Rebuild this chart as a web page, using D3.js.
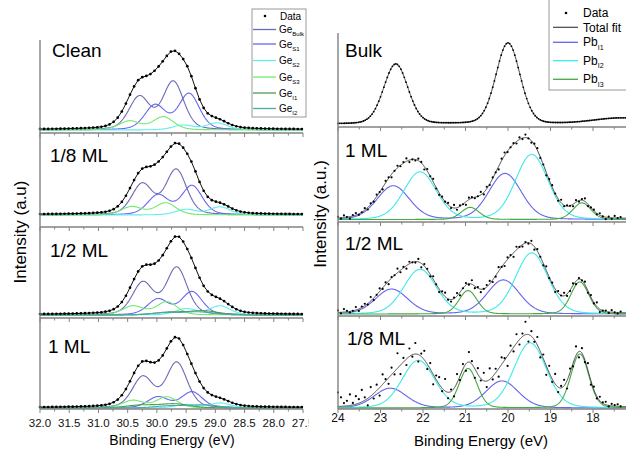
<!DOCTYPE html>
<html><head><meta charset="utf-8">
<script src="https://cdn.jsdelivr.net/npm/d3@7/dist/d3.min.js"></script>
<style>body{margin:0;background:#fff}svg{display:block}</style>
</head><body><svg id="c" width="626" height="450"></svg>
<script>
// ---------- DATA ----------
const geLabels = ["Clean", "1/8 ML", "1/2 ML", "1 ML"];
const pbLabels = ["Bulk", "1 ML", "1/2 ML", "1/8 ML"];
const geNames = ["Bulk", "S1", "S2", "S3", "I1", "I2"];
const pbNames = ["I1", "I2", "I3"];
// Ge 3d5/2 positions (eV) and heights for each left panel (Clean, 1/8, 1/2, 1 ML)
const geBulkPos = [29.72, 29.67, 29.66, 29.66], geBulkAmp = [48, 45, 47, 45];
const geS1Pos = [29.45, 29.40, 29.40, 29.40], geS1Amp = [36, 29, 23, 16];
const geS2Pos = [28.97, 28.92, 28.92, 28.92], geS2Amp = [7, 8, 9, 5];
const geS3Pos = [29.89, 29.85, 29.83, 29.83], geS3Amp = [13, 12, 13, 11];
const geI1Pos = [29.50, 29.50, 29.20, 29.70], geI1Amp = [0, 0, 4, 4];
const geI2Pos = [29.10, 29.10, 29.30, 29.20], geI2Amp = [0, 0, 3, 3];
const geFwhm = [0.42, 0.42, 0.42, 0.42, 0.6, 0.6];
const geSplit = 0.58, geBranch = 0.68;
// Pb 5d5/2 positions and heights for right panels (1 ML, 1/2 ML, 1/8 ML)
const pbI1Pos = [20.07, 20.11, 20.14], pbI1Amp = [46, 34, 27];
const pbI2Pos = [19.44, 19.44, 19.48], pbI2Amp = [65, 61, 65];
const pbI3Pos = [18.26, 18.31, 18.31], pbI3Amp = [16.6, 32, 54];
const pbFwhm = [0.9, 0.9, 0.5];
const pbSplit = 2.63, pbBranch = 0.73;
// Bulk Pb 5d
const bulkPos = 20.0, bulkAmp = 81, bulkFwhm = 0.67, bulkSplit = 2.64, bulkBranch = 0.74;
const bulkTailPos = 17.3, bulkTailAmp = 6, bulkTailFwhm = 1.6;
// scatter of measured points around the fit (right panels)
const res1ML = [1,-1,2,0,-2,1,2,-1,0,2,-2,1,-1,2,0,-2,2,1,-3,0,2,-1,1,3,-2,0,-1,2,1,-3,2,0,3,-1,-2,1,0,2,-1,3,-2,1,0,-3,2,1,-1,0,3,-2,2,-1,1,0,-3,2,3,-1,0,1,-2,2,-1,3,0,-2,1,2,-1,0,-3,1,2,0,-2,3,-1,1,0,-2,2,-1,1,3,-2,0,1,-1,2,0,-2,1,-1,2,0,1];
const res12ML = [2,-1,3,1,-1,0,3,-2,1,2,-1,4,-2,0,3,-1,2,-3,1,0,4,-2,1,-3,2,0,-1,3,-4,2,1,-2,3,0,-3,2,4,-1,-2,1,3,-3,0,2,-1,4,-2,1,-3,0,2,3,-2,-1,4,0,-3,2,1,-4,3,0,-2,1,-1,3,-3,2,0,-2,4,-1,1,-3,2,0,3,-2,-1,2,-3,1,0,3,-2,2,-1,4,-3,0,1,-1,2,0,-1,1];
const res18ML = [14,9,3,5,11,2,8,4,12,3,-7,9,-5,6,-8,10,2,-6,7,-3,15,-9,4,-6,8,-2,11,-7,3,9,-5,6,-10,4,7,-3,12,-6,2,-8,9,-4,5,-7,10,3,-9,6,-2,8,-6,11,-3,4,-8,7,2,-10,6,-4,9,-5,3,13,-7,5,-2,8,-6,4,-9,7,-3,10,-5,2,6,-8,4,-3,9,-6,5,-2,7,-4,3,-2,4,1,3,-1,2,1,2,0];
const leftTicks = [32, 31.5, 31, 30.5, 30, 29.5, 29, 28.5, 28, 27.5];
const leftMinor = [31.75, 31.25, 30.75, 30.25, 29.75, 29.25, 28.75, 28.25, 27.75];
const rightTicks = [24, 23, 22, 21, 20, 19, 18];
const rightMinor = [23.5, 22.5, 21.5, 20.5, 19.5, 18.5, 17.5];

// ---------- LAYOUT / STYLE ----------
const FONT = "'Liberation Sans', Arial, Helvetica, sans-serif";
const axisColor = "#828282";
const geColors = ["#6a6ab6", "#6666f0", "#60eeee", "#70ea70", "#4f9a4f", "#4fa8a8"];
const pbColors = ["#6565ee", "#3eeaea", "#44aa44"];
const fitColor = "#444";
const leftTop = [40, 133, 227, 318], leftAxis = [133, 227, 318, 409], leftBase = [130, 215, 315, 408];
const rightTop = [33, 127, 222, 316], rightAxis = [127, 222, 316, 409], rightBase = [124, 219.5, 314, 408];
const leftLabelPos = [[52, 57], [50, 162], [50, 257], [48, 353]];
const rightLabelPos = [[345, 57], [345, 157], [345, 250], [347, 345]];

const svg = d3.select("#c").style("font-family", FONT);
function pv(dx, w, eta) { const t = dx / w; return (1 - eta) * Math.exp(-4 * Math.LN2 * t * t) + eta / (1 + 4 * t * t); }
function doublet(E, c, h, w, split, branch, eta) { return h * pv(E - c, w, eta) + branch * h * pv(E - c - split, w, eta); }

function drawAxis(g, x, yPos, x0, x1, major, minor, labels, labelY, fmt, fs) {
  g.append("line").attr("x1", x0).attr("x2", x1).attr("y1", yPos).attr("y2", yPos)
    .attr("stroke", axisColor).attr("stroke-width", 1.4);
  g.selectAll(null).data(major).enter().append("line")
    .attr("x1", d => x(d)).attr("x2", d => x(d)).attr("y1", yPos).attr("y2", yPos + 4)
    .attr("stroke", axisColor).attr("stroke-width", 1);
  g.selectAll(null).data(minor).enter().append("line")
    .attr("x1", d => x(d)).attr("x2", d => x(d)).attr("y1", yPos).attr("y2", yPos + 2.5)
    .attr("stroke", axisColor).attr("stroke-width", 1);
  if (labels) {
    g.selectAll(null).data(major).enter().append("text")
      .attr("x", d => x(d)).attr("y", labelY).attr("text-anchor", "middle")
      .attr("font-size", fs).attr("fill", "#111").text(fmt);
  }
}

// ---------- LEFT (Ge 3d) ----------
const xL = d3.scaleLinear().domain([32, 27.5]).range([40, 303]);
const gL = svg.append("g");
const eFineL = d3.range(27.5, 32.0001, 0.01);
const eDataL = d3.range(0, 65).map(i => 32 - i * 0.07);
const gePos = [geBulkPos, geS1Pos, geS2Pos, geS3Pos, geI1Pos, geI2Pos];
const geAmp = [geBulkAmp, geS1Amp, geS2Amp, geS3Amp, geI1Amp, geI2Amp];
geLabels.forEach((lab, p) => {
  const y = d3.scaleLinear().domain([0, 100]).range([leftBase[p], leftBase[p] - 100]);
  const line = d3.line().x(d => xL(d[0])).y(d => y(d[1]));
  const comp = (k, E) => doublet(E, gePos[k][p], geAmp[k][p], geFwhm[k], geSplit, geBranch, 0.3);
  geNames.forEach((n, k) => {
    if (geAmp[k][p] <= 0) return;
    gL.append("path").datum(eFineL.map(E => [E, comp(k, E)])).attr("d", line)
      .attr("fill", "none").attr("stroke", geColors[k]).attr("stroke-width", 1.1);
  });
  const data = eDataL.map(E => [E, d3.sum(geNames, (n, k) => geAmp[k][p] > 0 ? comp(k, E) : 0) + 0.5]);
  gL.append("path").datum(data).attr("d", line).attr("fill", "none").attr("stroke", "#111").attr("stroke-width", 1);
  gL.selectAll(null).data(data).enter().append("circle")
    .attr("cx", d => xL(d[0])).attr("cy", d => y(d[1])).attr("r", 1.35).attr("fill", "#000");
  drawAxis(gL, xL, leftAxis[p], 40, 303, leftTicks, leftMinor, p === 3, 427, d => d.toFixed(1), 11.5);
  gL.append("text").attr("x", leftLabelPos[p][0]).attr("y", leftLabelPos[p][1])
    .attr("font-size", 19).attr("fill", "#000").text(lab);
});
gL.append("line").attr("x1", 40).attr("x2", 40).attr("y1", 40).attr("y2", 409)
  .attr("stroke", axisColor).attr("stroke-width", 1.4);
gL.append("text").attr("x", 172).attr("y", 445).attr("text-anchor", "middle").attr("font-size", 14).text("Binding Energy (eV)");
gL.append("text").attr("transform", "translate(26,232) rotate(-90)").attr("text-anchor", "middle")
  .attr("font-size", 17).text("Intensity (a.u)");

// Left legend
const lgL = svg.append("g");
lgL.append("rect").attr("x", 252).attr("y", 9).attr("width", 54).attr("height", 108)
  .attr("fill", "#fff").attr("stroke", "#999").attr("stroke-width", 1);
lgL.append("circle").attr("cx", 265).attr("cy", 16).attr("r", 1.3).attr("fill", "#000");
lgL.append("text").attr("x", 280).attr("y", 19.5).attr("font-size", 10).text("Data");
const lgLy = [29.5, 44, 60.5, 77, 93, 108.5];
geNames.forEach((n, k) => {
  lgL.append("line").attr("x1", 253).attr("x2", 276).attr("y1", lgLy[k]).attr("y2", lgLy[k])
    .attr("stroke", geColors[k]).attr("stroke-width", 1.3);
  const t = lgL.append("text").attr("x", 279).attr("y", lgLy[k] + 3.5).attr("font-size", 10);
  t.append("tspan").text("Ge");
  t.append("tspan").attr("dy", 3).attr("font-size", 6).text(n);
});

// ---------- RIGHT (Pb 5d) ----------
svg.append("rect").attr("x", 308.5).attr("y", 0).attr("width", 320).attr("height", 450).attr("fill", "#fff");
const xR = d3.scaleLinear().domain([24, 17.2]).range([338, 627]);
const gR = svg.append("g");
const eFineR = d3.range(17.2, 24.0001, 0.01);
const eDataR = d3.range(0, 96).map(i => 24 - i * 0.07);
const pbPos = [pbI1Pos, pbI2Pos, pbI3Pos], pbAmp = [pbI1Amp, pbI2Amp, pbI3Amp];
const resid = [res1ML, res12ML, res18ML];
pbLabels.forEach((lab, p) => {
  const y = d3.scaleLinear().domain([0, 100]).range([rightBase[p], rightBase[p] - 100]);
  const line = d3.line().x(d => xR(d[0])).y(d => y(d[1]));
  if (p === 0) {
    const fit = E => doublet(E, bulkPos, bulkAmp, bulkFwhm, bulkSplit, bulkBranch, 0.15) + bulkTailAmp * pv(E - bulkTailPos, bulkTailFwhm, 0);
    const bulkE = d3.range(0, 171).map(i => 24 - i * 0.04);
    gR.append("path").datum(eFineR.map(E => [E, fit(E)])).attr("d", line)
      .attr("fill", "none").attr("stroke", fitColor).attr("stroke-width", 1);
    gR.selectAll(null).data(bulkE.map(E => [E, fit(E)])).enter().append("circle")
      .attr("cx", d => xR(d[0])).attr("cy", d => y(d[1])).attr("r", 0.9).attr("fill", "#000");
  } else {
    const q = p - 1;
    const comp = (k, E) => doublet(E, pbPos[k][q], pbAmp[k][q], pbFwhm[k], pbSplit, pbBranch, 0.15);
    pbNames.forEach((n, k) => {
      gR.append("path").datum(eFineR.map(E => [E, comp(k, E)])).attr("d", line)
        .attr("fill", "none").attr("stroke", pbColors[k]).attr("stroke-width", 1.1);
    });
    const total = E => d3.sum(pbNames, (n, k) => comp(k, E)) + 0.5;
    gR.append("path").datum(eFineR.map(E => [E, total(E)])).attr("d", line)
      .attr("fill", "none").attr("stroke", fitColor).attr("stroke-width", 1);
    gR.selectAll(null).data(eDataR.map((E, i) => [E, total(E) + (resid[q][i] || 0)])).enter().append("circle")
      .attr("cx", d => xR(d[0])).attr("cy", d => y(d[1])).attr("r", 1.1).attr("fill", "#000");
  }
  drawAxis(gR, xR, rightAxis[p], 338, 626, rightTicks, rightMinor, p === 3, 422, d => String(d), 12);
  gR.append("text").attr("x", rightLabelPos[p][0]).attr("y", rightLabelPos[p][1])
    .attr("font-size", 19).attr("fill", "#000").text(lab);
});
gR.append("line").attr("x1", 338).attr("x2", 338).attr("y1", 33).attr("y2", 409)
  .attr("stroke", axisColor).attr("stroke-width", 1.4);
gR.append("text").attr("x", 481).attr("y", 446).attr("text-anchor", "middle").attr("font-size", 15).text("Binding Energy (eV)");
gR.append("text").attr("transform", "translate(326,214) rotate(-90)").attr("text-anchor", "middle")
  .attr("font-size", 17).text("Intensity (a.u.)");

// Right legend
const lgR = svg.append("g");
lgR.append("rect").attr("x", 549).attr("y", -5).attr("width", 90).attr("height", 95)
  .attr("fill", "#fff").attr("stroke", "#999").attr("stroke-width", 1);
lgR.append("circle").attr("cx", 566).attr("cy", 13).attr("r", 1.3).attr("fill", "#000");
lgR.append("text").attr("x", 583).attr("y", 17).attr("font-size", 12).text("Data");
lgR.append("line").attr("x1", 553).attr("x2", 578).attr("y1", 27.3).attr("y2", 27.3).attr("stroke", fitColor).attr("stroke-width", 1.2);
lgR.append("text").attr("x", 583).attr("y", 31.5).attr("font-size", 12).text("Total fit");
const lgRy = [42.3, 60.7, 79.3];
pbNames.forEach((n, k) => {
  lgR.append("line").attr("x1", 553).attr("x2", 578).attr("y1", lgRy[k]).attr("y2", lgRy[k])
    .attr("stroke", pbColors[k]).attr("stroke-width", 1.3);
  const t = lgR.append("text").attr("x", 583).attr("y", lgRy[k] + 4).attr("font-size", 12);
  t.append("tspan").text("Pb");
  t.append("tspan").attr("dy", 3.5).attr("font-size", 7).text(n);
});
</script></body></html>
